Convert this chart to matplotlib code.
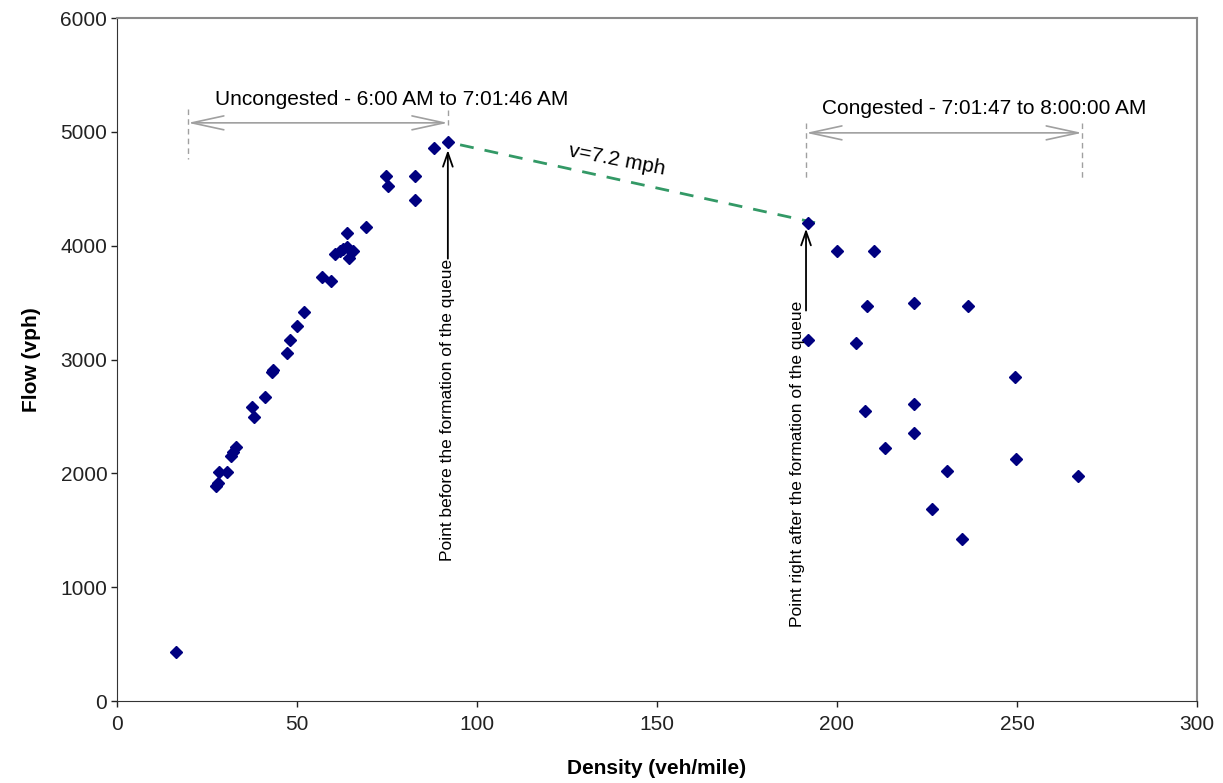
import matplotlib.pyplot as plt

plt.rcParams['font.family'] = ['Liberation Sans', 'DejaVu Sans']

# uncongested regime (6:00 AM to 7:01:46 AM)
density_unc = [16.4, 27.5, 28.0, 28.3, 30.5, 31.6, 32.3, 33.1, 38.1, 37.6, 41.1,
               43.1, 43.4, 47.3, 48.1, 50.1, 51.9, 56.9, 59.4, 60.6, 61.9, 62.9,
               63.8, 65.5, 64.3, 64.0, 69.2, 74.6, 75.4, 82.8, 82.7, 88.1, 92.0]
flow_unc = [430, 1886, 1912, 2009, 2009, 2149, 2184, 2228, 2491, 2579, 2667,
            2886, 2904, 3059, 3175, 3298, 3415, 3722, 3687, 3927, 3950, 3971,
            3985, 3956, 3892, 4108, 4167, 4614, 4526, 4614, 4401, 4860, 4912]

# congested regime (7:01:47 to 8:00:00 AM)
density_con = [192.0, 199.9, 210.2, 208.4, 221.5, 236.4, 192.0, 205.4, 249.5,
               221.5, 207.9, 221.5, 213.4, 249.6, 230.6, 267.0, 226.5, 234.8]
flow_con = [4196, 3953, 3953, 3474, 3500, 3474, 3173, 3146, 2845,
            2608, 2547, 2351, 2225, 2129, 2020, 1980, 1690, 1424]

fig = plt.figure(figsize=(12.23, 7.83), dpi=100)
ax = fig.add_axes([0.0957, 0.1047, 0.8830, 0.8723])

ax.plot(density_unc + density_con, flow_unc + flow_con, linestyle='', marker='D',
        ms=5.8, color='#000080', mec='#000080', zorder=3)

ax.set_xlim(0, 300)
ax.set_ylim(0, 6000)
ax.set_xticks(range(0, 301, 50))
ax.set_yticks(range(0, 6001, 1000))
ax.tick_params(direction='out', length=4, width=1, labelsize=15, colors='#222222')
ax.tick_params(axis='x', pad=6)
ax.tick_params(axis='y', pad=3)
for s in ['left', 'bottom']:
    ax.spines[s].set_color('#333333')
for s in ['top', 'right']:
    ax.spines[s].set_color('#8a8a8a')
    ax.spines[s].set_linewidth(1.5)

ax.set_xlabel('Density (veh/mile)', fontsize=15, fontweight='bold', labelpad=18)
ax.set_ylabel('Flow (vph)', fontsize=15, fontweight='bold', labelpad=14)

# shockwave line
ax.plot([95.3, 193.9], [4886, 4202], linestyle=(0, (5, 4)), color='#339966', lw=2, zorder=2)
ax.text(139, 4755, 'v=7.2 mph', fontsize=15, rotation=-11, ha='center', va='center')

gray = '#a0a0a0'
rng_arrow = dict(arrowstyle='<->,head_length=2.3,head_width=0.5', color=gray, lw=1.2,
                 shrinkA=0, shrinkB=0)
# uncongested range
ax.annotate('', xy=(19.7, 5079), xytext=(91.9, 5079), arrowprops=rng_arrow)
ax.plot([19.7, 19.7], [5202, 4763], linestyle=(0, (4, 3)), color=gray, lw=1)
ax.plot([91.9, 91.9], [5190, 5060], linestyle=(0, (4, 3)), color=gray, lw=1)
ax.text(76.2, 5281, 'Uncongested - 6:00 AM to 7:01:46 AM', fontsize=15, ha='center', va='center')

# congested range
ax.annotate('', xy=(191.4, 4991), xytext=(268.1, 4991), arrowprops=rng_arrow)
ax.plot([191.4, 191.4], [5079, 4596], linestyle=(0, (4, 3)), color=gray, lw=1)
ax.plot([268.1, 268.1], [5079, 4570], linestyle=(0, (4, 3)), color=gray, lw=1)
ax.text(240.8, 5202, 'Congested - 7:01:47 to 8:00:00 AM', fontsize=15, ha='center', va='center')

# point labels
pt_arrow = dict(arrowstyle='->,head_length=1.0,head_width=0.35', color='black', lw=1.3,
                shrinkA=0, shrinkB=0)
ax.annotate('', xy=(91.9, 4840), xytext=(91.9, 3886), arrowprops=pt_arrow)
ax.text(91.9, 3886, 'Point before the formation of the queue', fontsize=12.5,
        rotation=90, ha='center', va='top')
ax.annotate('', xy=(191.4, 4149), xytext=(191.4, 3430), arrowprops=pt_arrow)
ax.text(188.9, 3520, 'Point right after the formation of the queue', fontsize=12.5,
        rotation=90, ha='center', va='top')

fig.savefig('out.png', dpi=100)
